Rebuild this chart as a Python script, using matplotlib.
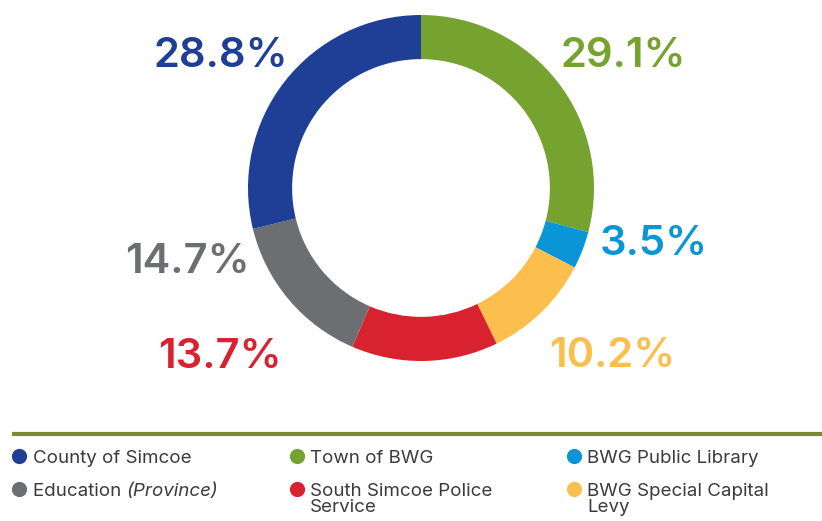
import matplotlib
matplotlib.use("Agg")
import matplotlib.pyplot as plt

# ---- data (clockwise from 12 o'clock) ----
slice_names = ["Town of BWG", "BWG Public Library", "BWG Special Capital Levy",
               "South Simcoe Police Service", "Education (Province)", "County of Simcoe"]
slice_values = [29.1, 3.5, 10.2, 13.7, 14.7, 28.8]
slice_colors = ["#76a22f", "#0a96d6", "#fcbf4e", "#d8222f", "#6d6e71", "#1e3f95"]
pct_labels = ["29.1%", "3.5%", "10.2%", "13.7%", "14.7%", "28.8%"]

legend_names = ["County of Simcoe", "Town of BWG", "BWG Public Library",
                "Education|(Province)", "South Simcoe Police\nService", "BWG Special Capital\nLevy"]
legend_colors = ["#1e3f95", "#76a22f", "#0a96d6", "#6d6e71", "#d8222f", "#fcbf4e"]

W, H = 822, 521
fig = plt.figure(figsize=(W / 100, H / 100), dpi=100)
fig.patch.set_facecolor("white")

# donut axes
cx, cy, R = 421, 188, 173
ax = fig.add_axes([(cx - R) / W, (H - cy - R) / H, 2 * R / W, 2 * R / H])
ax.pie(slice_values, colors=slice_colors, startangle=90, counterclock=False,
       radius=1.0, wedgeprops=dict(width=0.255, linewidth=0))
ax.set_xlim(-1, 1)
ax.set_ylim(-1, 1)
ax.set_aspect("equal")
ax.axis("off")

# overlay axes in pixel coordinates
ov = fig.add_axes([0, 0, 1, 1], zorder=5)
ov.set_xlim(0, W)
ov.set_ylim(H, 0)
ov.axis("off")
ov.patch.set_alpha(0)

pct_pos = [(623, 67), (654, 255), (612, 367), (220, 368), (187, 273), (221, 67)]
for lab, col, (x, y) in zip(pct_labels, slice_colors, pct_pos):
    ov.text(x, y, lab, color=col, fontsize=30, fontweight="semibold",
            family="Inter", ha="center", va="baseline")

# legend separator line
ov.plot([12, W], [434, 434], color="#7b8a2c", linewidth=3, solid_capstyle="butt")

col_marker_x = [19, 297, 574]
col_text_x = [33, 310, 587]
row_base = [463, 496]
txt_color = "#3b3b3d"
for i, (name, col) in enumerate(zip(legend_names, legend_colors)):
    r, c = divmod(i, 3)
    yb = row_base[r]
    ov.scatter([col_marker_x[c]], [yb - 7], s=120, color=col, linewidths=0)
    if "|" in name:
        main, ital = name.split("|")
        t = ov.text(col_text_x[c], yb, main + " ", color=txt_color, fontsize=13.5,
                    family="Inter", ha="left", va="baseline")
        ov.annotate(ital, xy=(1, 0), xycoords=t, color=txt_color, fontsize=13.5,
                    family="Inter", style="italic", ha="left", va="bottom")
    else:
        for k, line in enumerate(name.split("\n")):
            ov.text(col_text_x[c], yb + 16 * k, line, color=txt_color, fontsize=13.5,
                    family="Inter", ha="left", va="baseline")

fig.savefig("out.png", dpi=100, facecolor="white")
